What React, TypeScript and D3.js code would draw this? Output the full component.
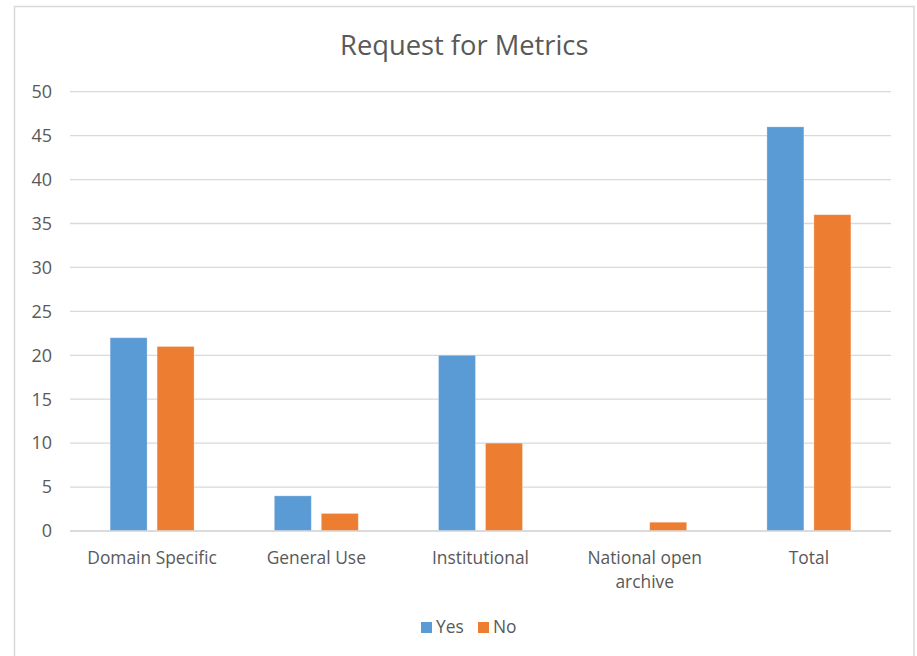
import React from "react";
import * as d3 from "d3";

const categories = ["Domain Specific", "General Use", "Institutional", "National open archive", "Total"];
const seriesNames = ["Yes", "No"];
const yesValues = [22, 4, 20, 0, 46];
const noValues = [21, 2, 10, 1, 36];
const yTicks = [0, 5, 10, 15, 20, 25, 30, 35, 40, 45, 50];

const colors: Record<string, string> = { Yes: "#5B9BD5", No: "#ED7D31" };
const textColor = "#595959";
const gridColor = "#D9D9D9";
const font = "'Open Sans', sans-serif";

const W = 917;
const H = 656;
const frame = { left: 14.5, top: 6.5, right: 914 };
const plot = { left: 70, right: 891, top: 91.7, bottom: 531 };

function wrapLabel(label: string): string[] {
  if (label === "National open archive") return ["National open", "archive"];
  return [label];
}

export default function App() {
  const x0 = d3.scaleBand<string>().domain(categories).range([plot.left, plot.right]).paddingInner(0).paddingOuter(0);
  const x1 = d3.scaleBand<string>().domain(seriesNames).range([0, x0.bandwidth()]).paddingInner(0.213).paddingOuter(0.854);
  const y = d3.scaleLinear().domain([0, 50]).range([plot.bottom, plot.top]);

  const series: Record<string, number[]> = { Yes: yesValues, No: noValues };

  return (
    <svg width={W} height={H} style={{ position: "absolute", left: 0, top: 0, background: "#fff" }}>
      <rect x={frame.left} y={frame.top} width={frame.right - frame.left} height={670} fill="#fff" stroke={gridColor} strokeWidth={1.5} />
      <text x={(frame.left + frame.right) / 2} y={55} textAnchor="middle" fontFamily={font} fontSize={27.3} fill={textColor}>
        Request for Metrics
      </text>
      {yTicks.map((t) => (
        <g key={t}>
          <line x1={plot.left} x2={plot.right} y1={y(t)} y2={y(t)} stroke={gridColor} strokeWidth={1.3} />
          <text x={52} y={y(t)} dy="0.35em" textAnchor="end" fontFamily={font} fontSize={18} fill={textColor}>
            {t}
          </text>
        </g>
      ))}
      {categories.map((c, i) => (
        <g key={c} transform={`translate(${x0(c)},0)`}>
          {seriesNames.map((s) => {
            const v = series[s][i];
            if (v <= 0) return null;
            return (
              <rect
                key={s}
                x={x1(s)}
                y={y(v)}
                width={x1.bandwidth()}
                height={y(0) - y(v)}
                fill={colors[s]}
                stroke="#fff"
                strokeOpacity={0.35}
                strokeWidth={0.8}
              />
            );
          })}
          {wrapLabel(c).map((line, j) => (
            <text
              key={j}
              x={x0.bandwidth() / 2}
              y={564 + j * 24}
              textAnchor="middle"
              fontFamily={font}
              fontSize={17.4}
              fill={textColor}
            >
              {line}
            </text>
          ))}
        </g>
      ))}
      <line x1={plot.left} x2={plot.right} y1={y(0)} y2={y(0)} stroke={gridColor} strokeWidth={1.5} />
      {seriesNames.map((s, i) => {
        const lx = [421, 478][i];
        return (
          <g key={s}>
            <rect x={lx} y={622} width={11} height={11} fill={colors[s]} />
            <text x={lx + 15} y={633} fontFamily={font} fontSize={17.4} fill={textColor}>
              {s}
            </text>
          </g>
        );
      })}
    </svg>
  );
}
